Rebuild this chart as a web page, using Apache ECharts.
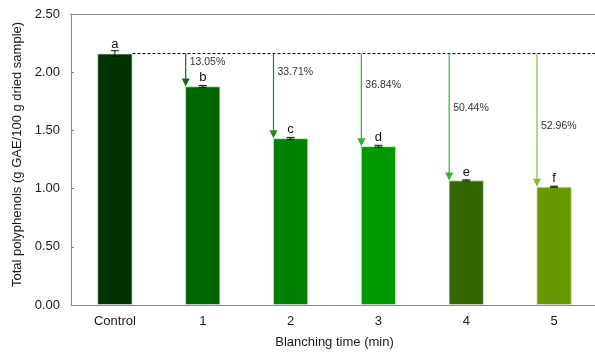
<!DOCTYPE html>
<html><head><meta charset="utf-8">
<script src="https://cdn.jsdelivr.net/npm/echarts@6/dist/echarts.min.js"></script>
<style>html,body{margin:0;padding:0;background:#fff}#c{width:595px;height:352px}</style>
</head><body><div id="c"></div>
<script>
var categories = ['Control', '1', '2', '3', '4', '5'];
var values = [2.16, 1.878, 1.432, 1.364, 1.070, 1.016];
var errors = [0.025, 0.008, 0.008, 0.008, 0.005, 0.005];
var letters = ['a', 'b', 'c', 'd', 'e', 'f'];
var barColors = ['#003300', '#006600', '#008000', '#009900', '#336600', '#669900'];
var reductions = ['', '13.05%', '33.71%', '36.84%', '50.44%', '52.96%'];
var reductionLabelY = [0, 2.088, 2.002, 1.89, 1.692, 1.538];
var arrowColors = ['', '#0b700b', '#1a8a1a', '#2db32d', '#2fb52f', '#86b840'];
var yTicks = [0, 0.5, 1.0, 1.5, 2.0, 2.5];
var BAR_RATIO = 0.4;
var baseValue = values[0];
var FONT = 'Liberation Sans, Arial, sans-serif';

var chart = echarts.init(document.getElementById('c'), null, {renderer: 'canvas'});

var arrowData = [];
for (var i = 1; i < categories.length; i++) arrowData.push([i, values[i], reductionLabelY[i]]);

chart.setOption({
  animation: false,
  grid: {left: 71, top: 14, width: 527, height: 291, containLabel: false, outerBoundsMode: 'none'},
  xAxis: [{
    type: 'category', data: categories,
    axisLine: {lineStyle: {color: '#888', width: 1}},
    axisTick: {show: true, inside: true, alignWithLabel: true, length: 3, lineStyle: {color: '#333'}},
    axisLabel: {color: '#1a1a1a', fontSize: 13, fontFamily: FONT, margin: 10},
    name: 'Blanching time (min)', nameLocation: 'middle', nameGap: 31,
    nameTextStyle: {color: '#1a1a1a', fontSize: 13, fontFamily: FONT}
  }, {
    type: 'category', data: categories, position: 'top',
    axisLine: {show: true, lineStyle: {color: '#888', width: 1}},
    axisTick: {show: false}, axisLabel: {show: false}
  }],
  yAxis: {
    type: 'value', min: yTicks[0], max: yTicks[yTicks.length - 1], interval: 0.5,
    splitLine: {show: false},
    axisLine: {show: true, lineStyle: {color: '#888', width: 1}},
    axisTick: {show: true, inside: true, length: 3, lineStyle: {color: '#888'}},
    axisLabel: {color: '#1a1a1a', fontSize: 13, fontFamily: FONT, margin: 11,
      formatter: function (v) { return v.toFixed(2); }},
    name: 'Total polyphenols (g GAE/100 g dried sample)', nameLocation: 'middle', nameGap: 46,
    nameTextStyle: {color: '#1a1a1a', fontSize: 13, fontFamily: FONT, padding: [0, 0, 0, 10]}
  },
  series: [{
    type: 'bar', barWidth: (BAR_RATIO * 100) + '%',
    data: values.map(function (v, i) {
      return {value: v, itemStyle: {color: barColors[i], borderColor: '#d9e6d9', borderWidth: 0.8},
        label: {show: true, position: 'top', distance: i === 0 ? 3 : 2, formatter: letters[i],
          color: '#111', fontSize: 13, fontFamily: FONT}};
    })
  }, {
    type: 'custom', z: 5,
    data: values.map(function (v, i) { return [i, v, errors[i]]; }),
    renderItem: function (params, api) {
      var idx = api.value(0), v = api.value(1), e = api.value(2);
      var p1 = api.coord([idx, v + e]), p2 = api.coord([idx, v - e]);
      var x = p1[0], hw = 4;
      var st = {stroke: '#111', lineWidth: 1};
      return {type: 'group', children: [
        {type: 'line', shape: {x1: x, y1: p1[1], x2: x, y2: p2[1]}, style: st},
        {type: 'line', shape: {x1: x - hw, y1: p1[1], x2: x + hw, y2: p1[1]}, style: st},
        {type: 'line', shape: {x1: x - hw, y1: p2[1], x2: x + hw, y2: p2[1]}, style: st}
      ]};
    }
  }, {
    type: 'custom', z: 4,
    data: [[0, baseValue]],
    renderItem: function (params, api) {
      var bw = api.size([1, 0])[0];
      var p = api.coord([0, api.value(1)]);
      var pEnd = api.coord([categories.length - 1, api.value(1)]);
      return {type: 'line', shape: {x1: p[0] + bw * BAR_RATIO / 2, y1: p[1], x2: pEnd[0] + bw / 2, y2: p[1]},
        style: {stroke: '#000', lineWidth: 1, lineDash: [3, 2]}};
    }
  }, {
    type: 'custom', z: 6,
    data: arrowData,
    renderItem: function (params, api) {
      var idx = api.value(0), v = api.value(1), ly = api.value(2);
      var bw = api.size([1, 0])[0] * BAR_RATIO;
      var pTop = api.coord([idx, baseValue]);
      var pBot = api.coord([idx, v]);
      var x = pTop[0] - bw / 2 + 0.5;
      var col = arrowColors[idx];
      var ah = 8, aw = 4;
      var pl = api.coord([idx, ly]);
      return {type: 'group', children: [
        {type: 'line', shape: {x1: x, y1: pTop[1], x2: x, y2: pBot[1] - ah + 1}, style: {stroke: col, lineWidth: 1.2}},
        {type: 'polygon', shape: {points: [[x - aw, pBot[1] - ah], [x + aw, pBot[1] - ah], [x, pBot[1]]]}, style: {fill: col}},
        {type: 'text', x: x + 4, y: pl[1], style: {text: reductions[idx], fill: '#333', fontSize: 10.5,
          fontFamily: FONT, verticalAlign: 'middle', align: 'left'}}
      ]};
    }
  }]
});
</script></body></html>
